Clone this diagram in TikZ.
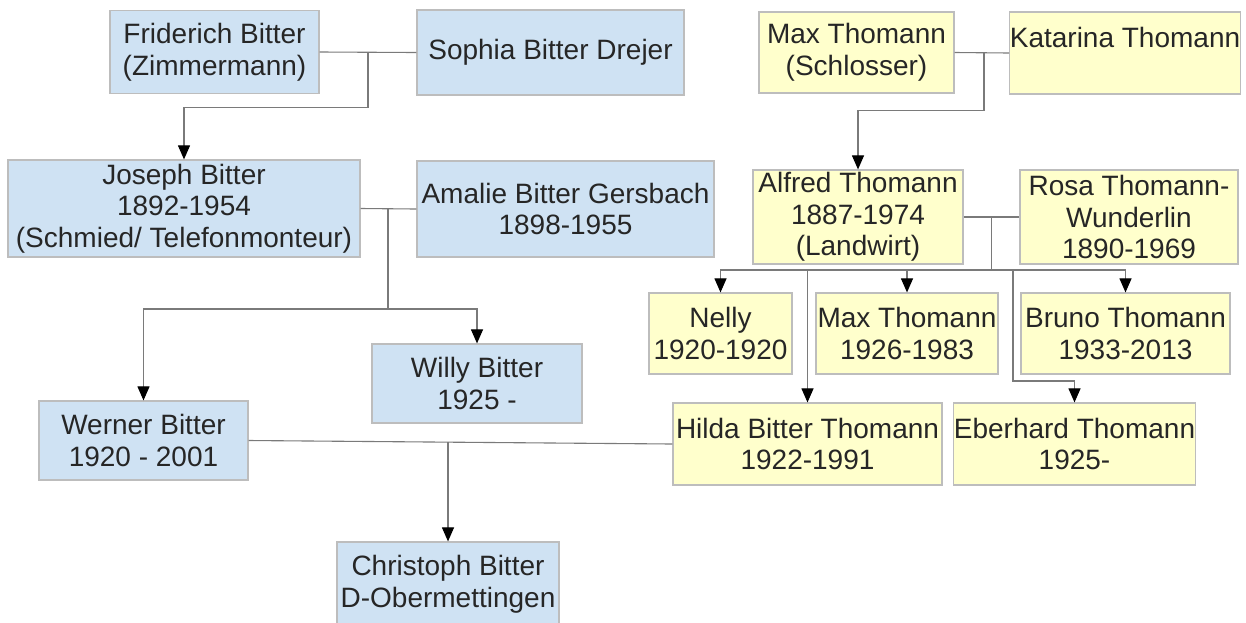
\documentclass[tikz,border=0pt]{standalone}
\usepackage{fontspec}
\setmainfont{Liberation Sans}
\usetikzlibrary{arrows.meta}
\definecolor{bluebox}{HTML}{CFE2F3}
\definecolor{yellowbox}{HTML}{FFFFCC}
\definecolor{boxline}{HTML}{BDBDBD}
\definecolor{linkline}{HTML}{7A7A7A}

\begin{document}
\begin{tikzpicture}[x=0.5pt,y=-0.5pt,
  person/.style={draw=boxline,line width=0.6pt,inner sep=0pt,align=center,
    font=\fontsize{14}{15.8}\selectfont,text=black!85},
  bitter/.style={person,fill=bluebox},
  thomann/.style={person,fill=yellowbox},
  link/.style={draw=linkline,line width=0.55pt},
  arr/.style={-{Triangle[width=6pt,length=7pt,color=black]}}]
\useasboundingbox (0,0) rectangle (1246,622);
%grandparents
\node[bitter,minimum width=104.5pt,minimum height=41.5pt] (fb) at (214.5,52) {Friderich Bitter\\(Zimmermann)};
\node[bitter,minimum width=133.5pt,minimum height=42.5pt] (sb) at (550.5,52.5) {Sophia Bitter Drejer};
\node[thomann,minimum width=97.5pt,minimum height=40.5pt] (mt) at (856.5,52.5) {Max Thomann\\(Schlosser)};
\node[thomann,minimum width=114pt,minimum height=41pt] (kt) at (1125,53) {Katarina Thomann\\~};
%parents
\node[bitter,minimum width=176pt,minimum height=48.5pt] (jb) at (184,208.5) {Joseph Bitter\\1892-1954\\(Schmied/ Telefonmonteur)};
\node[bitter,minimum width=148.5pt,minimum height=48pt] (ab) at (565.5,209) {Amalie Bitter Gersbach\\1898-1955};
\node[thomann,minimum width=105pt,minimum height=47pt] (at) at (858,217) {Alfred Thomann\\1887-1974\\(Landwirt)};
\node[thomann,minimum width=109pt,minimum height=47pt] (rt) at (1129,217) {Rosa Thomann-\\Wunderlin\\1890-1969};
%children
\node[thomann,minimum width=71.5pt,minimum height=40.5pt] (ny) at (720.5,333.5) {Nelly\\1920-1920};
\node[thomann,minimum width=91pt,minimum height=40.5pt] (mx) at (907,333.5) {Max Thomann\\1926-1983};
\node[thomann,minimum width=104.5pt,minimum height=40.5pt] (bt) at (1125.5,333.5) {Bruno Thomann\\1933-2013};
\node[bitter,minimum width=105pt,minimum height=39.5pt] (wy) at (477,383.5) {Willy Bitter\\1925 -};
\node[bitter,minimum width=104.5pt,minimum height=39.5pt] (wb) at (143.5,440.5) {Werner Bitter\\1920 - 2001};
\node[thomann,minimum width=134.5pt,minimum height=41pt] (hb) at (807.5,444) {Hilda Bitter Thomann\\1922-1991};
\node[thomann,minimum width=120.5pt,minimum height=41pt] (et) at (1074.5,444) {Eberhard Thomann\\1925-};
\node[bitter,minimum width=111pt,minimum height=42pt] (cb) at (448,584) {Christoph Bitter\\D-Obermettingen};
%Friderich and Sophia
\draw[link] (fb.east) -- (sb.west);
\coordinate (m1) at (368,52.2);
\draw[link,arr] (m1) -- ++(0,55) -| (jb.north);
%Max and Katarina
\draw[link] (mt.east) -- (kt.west);
\coordinate (m2) at (984,52.7);
\draw[link,arr] (m2) -- ++(0,57.5) -| (at.north);
%Joseph and Amalie
\draw[link] (jb.east) -- (ab.west);
\coordinate (m3) at (388,208.7);
\coordinate (j3) at (388,309);
\draw[link] (m3) -- (j3);
\draw[link,arr] (j3) -| (wb.north);
\draw[link,arr] (j3) -| (wy.north);
%Alfred and Rosa
\draw[link] (at.east) -- (rt.west);
\coordinate (m4) at (991.5,217);
\coordinate (j4) at (991.5,270);
\draw[link] (m4) -- (j4);
\draw[link,arr] (j4) -| (ny.north);
\draw[link,arr] (j4) -| (mx.north);
\draw[link,arr] (j4) -| (bt.north);
\draw[link,arr] (j4) -| (hb.north);
\draw[link,arr] (j4) -| ++(21.5,111) -| (et.north);
%Werner and Hilda
\draw[link] (wb.east) -- (hb.west);
\coordinate (m5) at (448,442.1);
\draw[link,arr] (m5) -- (cb.north);
\end{tikzpicture}
\end{document}
